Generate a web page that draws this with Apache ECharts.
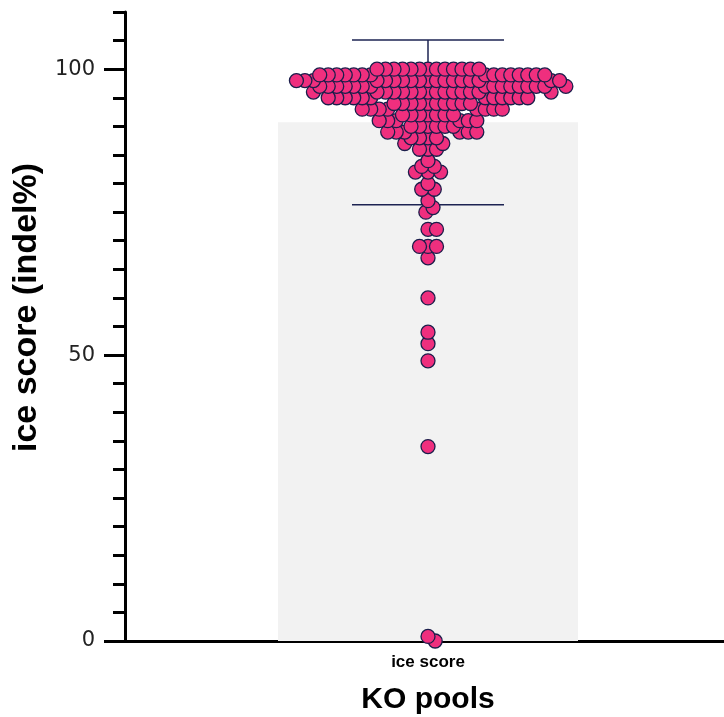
<!DOCTYPE html>
<html>
<head>
<meta charset="utf-8">
<script src="https://cdn.jsdelivr.net/npm/echarts@6/dist/echarts.min.js"></script>
<style>
  html, body { margin: 0; padding: 0; background: #fff; }
  #chart { width: 724px; height: 717px; }
</style>
</head>
<body>
<div id="chart"></div>
<script>
// data
const categories = ['ice score']
const barMean = [90.7]
const barSd = [14.4]
const yTickLabels = [0, 50, 100]
const iceScores = [
  0, 0.8, 34, 49, 52, 54, 60, 67, 69, 69, 69, 72, 72, 75, 75.8, 77, 79, 79, 80,
  82, 82, 82, 83, 83, 84, 86, 86, 86, 87, 87,
  88, 88, 88, 88,
  89, 89, 89, 89, 89, 89,
  90, 90, 90, 90, 90, 90,
  91, 91, 91, 91, 91, 91,
  92, 92, 92, 92, 92, 92, 92,
  93, 93, 93, 93, 93, 93, 93, 93,
  94, 94, 94, 94, 94, 94, 94, 94, 94, 94,
  95, 95, 95, 95, 95, 95, 95, 95, 95, 95, 95, 95,
  96, 96, 96, 96, 96, 96, 96, 96, 96, 96, 96, 96, 96, 96, 96,
  97, 97, 97, 97, 97, 97, 97, 97, 97, 97, 97, 97, 97, 97, 97, 97,
  98, 98, 98, 98, 98, 98, 98, 98, 98, 98, 98, 98, 98, 98, 98, 98, 98, 98,
  99, 99, 99, 99, 99, 99, 99, 99, 99, 99, 99, 99, 99, 99, 99,
  100, 100, 100, 100, 100, 100, 100, 100, 100, 100, 100, 100, 100
]

const chart = echarts.init(document.getElementById('chart'))

const dotSize = 14
const minGap = 8.5   // centre distance allowed between dots (they overlap)

const fontBold = { fontFamily: 'Liberation Sans, Arial, sans-serif', fontWeight: 'bold', color: '#000' }

const option = {
  animation: false,
  grid: { left: 125, right: -7, top: 12, bottom: 76, outerBoundsMode: 'none' },
  xAxis: [
    {
      type: 'category',
      data: categories,
      name: 'KO pools',
      nameLocation: 'middle',
      nameGap: 44,
      nameTextStyle: { ...fontBold, fontSize: 30 },
      axisLine: { onZero: false, lineStyle: { color: '#000', width: 3 } },
      axisTick: { alignWithLabel: true, length: 10, lineStyle: { color: '#000', width: 3 } },
      axisLabel: { ...fontBold, margin: 13, fontSize: 17 }
    },
    { type: 'value', min: -303, max: 303, show: false }
  ],
  yAxis: [
    {
      type: 'value', min: 0, max: 110, interval: 5,
      axisLine: { show: true, onZero: false, lineStyle: { color: '#000', width: 3 } },
      axisTick: { show: true, length: 12, lineStyle: { color: '#000', width: 3 } },
      axisLabel: { show: false },
      splitLine: { show: false }
    },
    {
      type: 'value', min: 0, max: 110, position: 'left',
      name: 'ice score (indel%)',
      nameLocation: 'middle',
      nameGap: 66,
      nameTextStyle: { ...fontBold, fontSize: 34, padding: [0, 0, 0, 38] },
      axisLine: { show: false, onZero: false },
      axisTick: { show: true, customValues: yTickLabels, length: 21, lineStyle: { color: '#000', width: 3 } },
      axisLabel: { customValues: yTickLabels, margin: 30, fontFamily: 'DejaVu Sans, sans-serif', fontSize: 21, color: '#222' },
      splitLine: { show: false }
    }
  ],
  series: [
    {
      type: 'bar',
      xAxisIndex: 0, yAxisIndex: 0,
      data: barMean,
      barWidth: 300,
      itemStyle: { color: '#f2f2f2' },
      z: 2
    },
    {
      type: 'custom',
      xAxisIndex: 0, yAxisIndex: 0,
      z: 3,
      data: categories.map((c, i) => [i, barMean[i], barSd[i]]),
      renderItem: (params, api) => {
        const x = api.coord([api.value(0), api.value(1)])[0]
        const top = api.coord([api.value(0), api.value(1) + api.value(2)])[1]
        const bot = api.coord([api.value(0), api.value(1) - api.value(2)])[1]
        const half = 76
        const style = { stroke: '#1d2352', lineWidth: 1.5 }
        return {
          type: 'group',
          children: [
            { type: 'line', shape: { x1: x, y1: top, x2: x, y2: bot }, style },
            { type: 'line', shape: { x1: x - half, y1: top, x2: x + half, y2: top }, style },
            { type: 'line', shape: { x1: x - half, y1: bot, x2: x + half, y2: bot }, style }
          ]
        }
      }
    },
    {
      type: 'scatter',
      xAxisIndex: 1, yAxisIndex: 0,
      symbolSize: dotSize,
      itemStyle: { color: '#ef2f7e', borderColor: '#1b1e4b', borderWidth: 1.3, opacity: 1 },
      data: [],
      z: 4
    }
  ]
}
chart.setOption(option)

// beeswarm: push each dot sideways until it clears the ones already placed
const yPx = Math.abs(chart.convertToPixel({ yAxisIndex: 0 }, 0) - chart.convertToPixel({ yAxisIndex: 0 }, 1))
const xPx = Math.abs(chart.convertToPixel({ xAxisIndex: 1 }, 1) - chart.convertToPixel({ xAxisIndex: 1 }, 0))

const swarm = (values) => {
  const placed = []
  const xs = new Array(values.length)
  const order = values.map((v, i) => i).sort((a, b) => values[b] - values[a])
  order.forEach(i => {
    const y = values[i] * yPx
    const cands = [0]
    placed.forEach(p => {
      const dy = Math.abs(p.y - y)
      if (dy < minGap) {
        const dx = Math.sqrt(minGap * minGap - dy * dy)
        cands.push(p.x + dx, p.x - dx)
      }
    })
    cands.sort((a, b) => Math.abs(a) - Math.abs(b))
    const x = cands.find(c => placed.every(p => (p.x - c) ** 2 + (p.y - y) ** 2 >= minGap * minGap - 1e-6))
    xs[i] = x
    placed.push({ x, y })
  })
  return xs
}

const offsets = swarm(iceScores)
chart.setOption({
  series: [{}, {}, { data: iceScores.map((v, i) => [offsets[i] / xPx, v]) }]
})
</script>
</body>
</html>
